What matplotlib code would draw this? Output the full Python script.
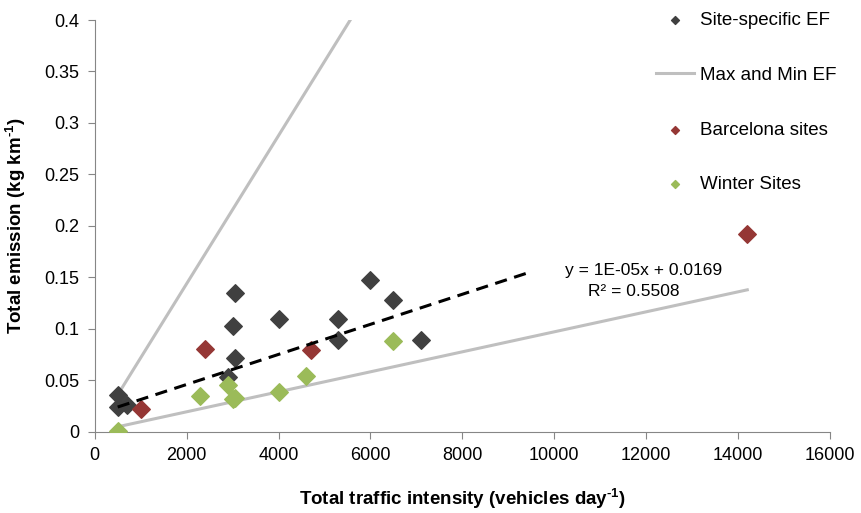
import numpy as np
import matplotlib
matplotlib.use('Agg')
import matplotlib.pyplot as plt

plt.rcParams['font.family'] = ['Liberation Sans', 'DejaVu Sans']
plt.rcParams['mathtext.fontset'] = 'custom'
plt.rcParams['mathtext.rm'] = 'Liberation Sans:bold'

# Data ------------------------------------------------------------------------
site_x = [500, 500, 700, 2900, 3000, 3050, 3050, 4000, 5300, 5300, 6000, 6500, 7100]
site_y = [0.036, 0.024, 0.026, 0.053, 0.103, 0.135, 0.072, 0.110, 0.110, 0.089, 0.148, 0.128, 0.089]

barc_x = [1000, 2400, 4700, 14200]
barc_y = [0.022, 0.081, 0.080, 0.192]

winter_x = [500, 2300, 2900, 3000, 3050, 4000, 4600, 6500]
winter_y = [0.001, 0.035, 0.046, 0.032, 0.033, 0.039, 0.054, 0.088]

# Max and min emission factor lines (kg per vehicle)
max_ef_x = [500, 5560]
max_ef_y = [0.036, 0.400]
min_ef_x = [500, 14200]
min_ef_y = [0.005, 0.138]

# Trend line of site-specific points
trend_slope = 1.46e-05
trend_icpt = 0.0169
trend_x = [500, 9450]

xticks = list(range(0, 16001, 2000))
yticks = [0, 0.05, 0.1, 0.15, 0.2, 0.25, 0.3, 0.35, 0.4]
ytick_labels = ['0', '0.05', '0.1', '0.15', '0.2', '0.25', '0.3', '0.35', '0.4']

# Plot ------------------------------------------------------------------------
fig = plt.figure(figsize=(8.61, 5.13), dpi=100)
ax = fig.add_axes([0.110, 0.158, 0.854, 0.803])

ax.plot(max_ef_x, max_ef_y, color='#BFBFBF', lw=2.2, label='Max and Min EF', zorder=2)
ax.plot(min_ef_x, min_ef_y, color='#BFBFBF', lw=2.2, zorder=2)

ax.scatter(site_x, site_y, marker='D', s=80, color='#404040', label='Site-specific EF', zorder=3)
ax.scatter(barc_x, barc_y, marker='D', s=80, color='#953735', label='Barcelona sites', zorder=3)
ax.scatter(winter_x, winter_y, marker='D', s=80, color='#9BBB59', label='Winter Sites', zorder=3)

tx = np.array(trend_x)
ax.plot(tx, trend_slope * tx + trend_icpt, color='black', lw=2.2, ls=(0, (4, 2.5)), zorder=4)

ax.text(10230, 0.157, 'y = 1E-05x + 0.0169', fontsize=12.5, ha='left', va='center')
ax.text(11730, 0.136, 'R² = 0.5508', fontsize=12.5, ha='center', va='center')

ax.set_xlim(0, 16000)
ax.set_ylim(0, 0.4)
ax.set_xticks(xticks)
ax.set_xticklabels([str(v) for v in xticks])
ax.set_yticks(yticks)
ax.set_yticklabels(ytick_labels)
ax.tick_params(labelsize=13, direction='out', length=5, color='#868686', pad=6)
for s in ['top', 'right']:
    ax.spines[s].set_visible(False)
for s in ['left', 'bottom']:
    ax.spines[s].set_color('#868686')

ax.set_xlabel('Total traffic intensity (vehicles day$^{\\text{-}1}$)', fontsize=13.5,
              fontweight='bold', labelpad=16)
ax.set_ylabel('Total emission (kg km$^{\\text{-}1}$)', fontsize=13.5,
              fontweight='bold', labelpad=12)

h, l = ax.get_legend_handles_labels()
order = [1, 0, 2, 3]
leg = ax.legend([h[i] for i in order], [l[i] for i in order], loc='upper left',
                bbox_to_anchor=(0.741, 1.06), frameon=False, fontsize=13.5,
                labelspacing=2.0, handlelength=2.0, handletextpad=0.3,
                markerscale=0.45)

fig.savefig('out.png', dpi=100)
